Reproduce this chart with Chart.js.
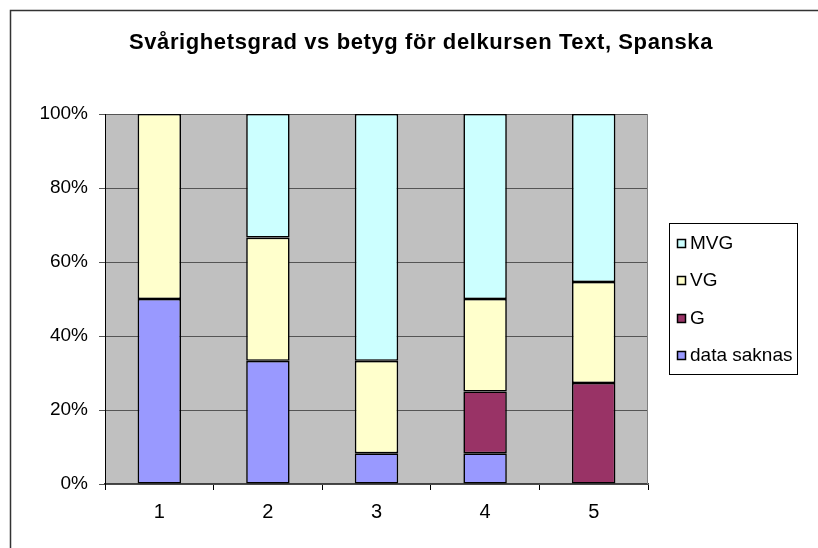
<!DOCTYPE html>
<html>
<head>
<meta charset="utf-8">
<script src="https://cdn.jsdelivr.net/npm/chart.js@4.4.1/dist/chart.umd.min.js"></script>
<style>
  html, body { margin: 0; padding: 0; background: #fff; }
  #wrap { width: 818px; height: 548px; position: relative; }
</style>
</head>
<body>
<div id="wrap"><canvas id="gradeChart" width="818" height="548"></canvas></div>
<script>
const chartTitle = 'Svårighetsgrad vs betyg för delkursen Text, Spanska';
const categories = ['1', '2', '3', '4', '5'];
const seriesNames = ['data saknas', 'G', 'VG', 'MVG'];
const dataSaknas = [50, 33.3, 8.3, 8.3, 0];
const gValues = [0, 0, 0, 16.7, 27.3];
const vgValues = [50, 33.3, 25, 25, 27.3];
const mvgValues = [0, 33.4, 66.7, 50, 45.4];
const seriesColors = ['#9999FF', '#993366', '#FFFFCC', '#CCFFFF'];
const yTicks = [0, 20, 40, 60, 80, 100];

const FONT = '"Liberation Sans", Arial, sans-serif';

// gray plot background, outer frame, title and legend box (Excel look)
const excelLook = {
  id: 'excelLook',
  beforeDraw(chart) {
    const { ctx, chartArea: a } = chart;
    ctx.save();
    ctx.fillStyle = '#C0C0C0';
    ctx.fillRect(a.left, a.top, a.right - a.left, a.bottom - a.top);
    ctx.strokeStyle = '#333';
    ctx.lineWidth = 1.5;
    ctx.beginPath();
    ctx.moveTo(10.5, 548);
    ctx.lineTo(10.5, 10.5);
    ctx.lineTo(818, 10.5);
    ctx.stroke();

    ctx.fillStyle = '#000';
    ctx.font = 'bold 22px ' + FONT;
    ctx.letterSpacing = '0.6px';
    ctx.textAlign = 'center';
    ctx.textBaseline = 'alphabetic';
    ctx.fillText(chartTitle, 421, 49);
    ctx.restore();
  },
  afterDraw(chart) {
    const { ctx, chartArea: a } = chart;
    ctx.save();
    ctx.strokeStyle = '#808080';
    ctx.lineWidth = 1;
    ctx.beginPath();
    ctx.moveTo(a.right - 0.5, a.top);
    ctx.lineTo(a.right - 0.5, a.bottom);
    ctx.stroke();

    // legend
    const bx = 669, by = 223, bw = 128, bh = 151;
    ctx.strokeStyle = '#000';
    ctx.lineWidth = 1;
    ctx.strokeRect(bx + 0.5, by + 0.5, bw, bh);
    ctx.font = '19px ' + FONT;
    ctx.textBaseline = 'middle';
    const rows = [243, 280, 318, 355];
    ctx.lineWidth = 1.5;
    for (let i = 0; i < seriesNames.length; i++) {
      const k = seriesNames.length - 1 - i;
      const y = rows[i];
      ctx.fillStyle = seriesColors[k];
      ctx.fillRect(677, y - 4, 9, 9);
      ctx.strokeRect(677.5, y - 3.5, 8, 8);
      ctx.fillStyle = '#000';
      ctx.fillText(seriesNames[k], 690, y + 1);
    }
    ctx.restore();
  }
};

const seriesData = [dataSaknas, gValues, vgValues, mvgValues];

new Chart(document.getElementById('gradeChart'), {
  type: 'bar',
  data: {
    labels: categories,
    datasets: seriesNames.map((name, i) => ({
      label: name,
      data: seriesData[i],
      backgroundColor: seriesColors[i],
      borderColor: '#000',
      borderWidth: 1.6,
      borderSkipped: false,
      categoryPercentage: 0.4,
      barPercentage: 1
    }))
  },
  options: {
    responsive: false,
    animation: false,
    layout: { padding: { left: 10, right: 170, top: 114, bottom: 0 } },
    plugins: {
      legend: { display: false },
      tooltip: { enabled: false },
      title: { display: false }
    },
    scales: {
      x: {
        stacked: true,
        grid: {
          drawOnChartArea: false,
          drawTicks: true,
          tickLength: 6,
          color: '#000',
          offset: true
        },
        border: { color: '#404040', width: 1.5 },
        ticks: {
          color: '#000',
          font: { family: FONT, size: 20 },
          padding: 10
        },
        afterFit: s => { s.height = 64; }
      },
      y: {
        stacked: true,
        min: 0,
        max: 100,
        afterBuildTicks: s => { s.ticks = yTicks.map(v => ({ value: v })); },
        grid: {
          color: '#555',
          lineWidth: 1,
          tickLength: 6
        },
        border: { color: '#000', width: 1 },
        ticks: {
          color: '#000',
          font: { family: FONT, size: 19 },
          padding: 11,
          callback: v => v + '%'
        },
        afterFit: s => { s.width = 95; }
      }
    }
  },
  plugins: [excelLook]
});
</script>
</body>
</html>
